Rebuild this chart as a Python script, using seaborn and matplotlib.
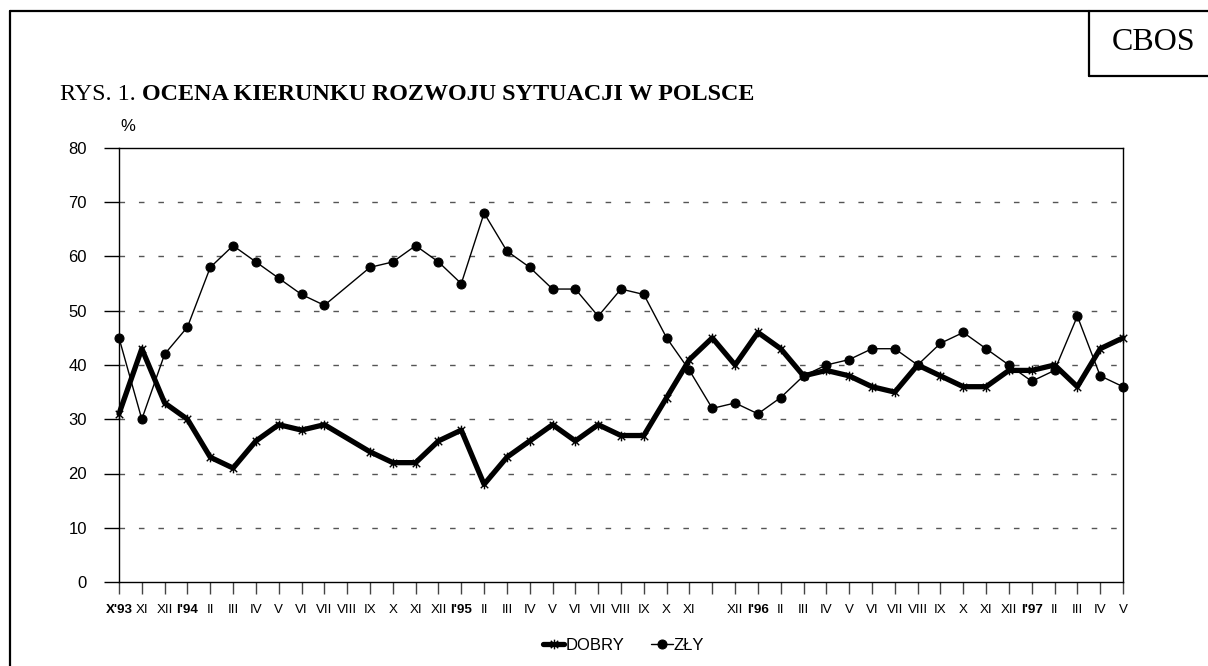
import numpy as np
import pandas as pd
import matplotlib
matplotlib.use("Agg")
import matplotlib.pyplot as plt
import seaborn as sns
from matplotlib.path import Path
from matplotlib.lines import Line2D

# ---------------- data ----------------
months = ["X'93", "XI", "XII",
          "I'94", "II", "III", "IV", "V", "VI", "VII", "VIII", "IX", "X", "XI", "XII",
          "I'95", "II", "III", "IV", "V", "VI", "VII", "VIII", "IX", "X", "XI", "",
          "XII",
          "I'96", "II", "III", "IV", "V", "VI", "VII", "VIII", "IX", "X", "XI", "XII",
          "I'97", "II", "III", "IV", "V"]
dobry = [31, 43, 33,
         30, 23, 21, 26, 29, 28, 29, np.nan, 24, 22, 22, 26,
         28, 18, 23, 26, 29, 26, 29, 27, 27, 34, 41, 45,
         40,
         46, 43, 38, 39, 38, 36, 35, 40, 38, 36, 36, 39,
         39, 40, 36, 43, 45]
zly = [45, 30, 42,
       47, 58, 62, 59, 56, 53, 51, np.nan, 58, 59, 62, 59,
       55, 68, 61, 58, 54, 54, 49, 54, 53, 45, 39, 32,
       33,
       31, 34, 38, 40, 41, 43, 43, 40, 44, 46, 43, 40,
       37, 39, 49, 38, 36]
y_ticks = [0, 10, 20, 30, 40, 50, 60, 70, 80]

pos = np.arange(len(months))
df_d = pd.DataFrame({"pos": pos, "val": dobry}).dropna()
df_z = pd.DataFrame({"pos": pos, "val": zly}).dropna()

# ---------------- figure ----------------
sns.set_style("white")
plt.rcParams["font.family"] = ["Liberation Sans", "DejaVu Sans"]
plt.rcParams["text.color"] = "black"
plt.rcParams["axes.labelcolor"] = "black"
plt.rcParams["xtick.color"] = "black"
plt.rcParams["ytick.color"] = "black"

W, H = 1208, 666
fig = plt.figure(figsize=(W / 100, H / 100), dpi=100)
ax = fig.add_axes([119 / W, 1 - 582 / H, (1123 - 119) / W, (582 - 148) / H])

star = Path([(-1, -1), (1, 1), (-1, 1), (1, -1), (0, -1.3), (0, 1.3)],
            [Path.MOVETO, Path.LINETO, Path.MOVETO, Path.LINETO, Path.MOVETO, Path.LINETO])

sns.lineplot(data=df_z, x="pos", y="val", ax=ax, color="black", linewidth=1.0,
             marker="o", markersize=6.5, markeredgecolor="black", markerfacecolor="black",
             errorbar=None, legend=False, clip_on=False, zorder=3)
sns.lineplot(data=df_d, x="pos", y="val", ax=ax, color="black", linewidth=3.8,
             marker=star, markersize=7, markeredgewidth=1.0, markeredgecolor="black",
             errorbar=None, legend=False, clip_on=False, zorder=4)

ax.set_xlim(0, len(months) - 1)
ax.set_ylim(0, 80)
ax.set_yticks(y_ticks)
ax.set_yticklabels([str(v) for v in y_ticks], fontsize=12, color="black")
ax.set_xticks(pos)
ax.set_xticklabels(months, fontsize=9.6, color="black")
for lab in ax.get_xticklabels():
    if "'" in lab.get_text():
        lab.set_fontweight("bold")
ax.set_xlabel("")
ax.set_ylabel("")

for v in y_ticks[1:-1]:
    ax.axhline(v, color="#555555", linewidth=1.0, linestyle=(0, (4, 10)), zorder=1)

for s in ax.spines.values():
    s.set_visible(True)
    s.set_color("black")
    s.set_linewidth(1.0)

ax.tick_params(axis="y", direction="out", length=11, width=1, color="black", pad=12, left=True)
ax.tick_params(axis="x", direction="out", length=8.6, width=1, color="#444444", pad=7, bottom=True)

# legend
h1, h2 = ax.lines[1], ax.lines[0]
leg = fig.legend([h1, h2], ["DOBRY", "ZŁY"], loc="center", bbox_to_anchor=(0.516, 0.031),
                 ncol=2, frameon=False, fontsize=12, handlelength=1.3, handletextpad=0.05,
                 columnspacing=1.6, labelcolor="black")

# texts
fig.text(120 / W, 1 - 131 / H, "%", fontsize=12, ha="left", va="baseline", color="black")
t1 = fig.text(60 / W, 1 - 100 / H, "RYS. 1. ", fontsize=17.4, family="Liberation Serif",
              ha="left", va="baseline", color="black")
fig.canvas.draw()
bb = t1.get_window_extent(renderer=fig.canvas.get_renderer())
fig.text(bb.x1 / W, 1 - 100 / H, "OCENA KIERUNKU ROZWOJU SYTUACJI W POLSCE", fontsize=17.4,
         family="Liberation Serif", fontweight="bold", ha="left", va="baseline", color="black")
fig.text(1154 / W, 1 - 50 / H, "CBOS", fontsize=23, family="Liberation Serif",
         ha="center", va="baseline", color="black")

# frame lines
lw = 1.6
fig.add_artist(Line2D([10 / W, 1.0], [1 - 11 / H, 1 - 11 / H], transform=fig.transFigure,
                      color="black", linewidth=lw))
fig.add_artist(Line2D([10 / W, 10 / W], [1 - 11 / H, 0.0], transform=fig.transFigure,
                      color="black", linewidth=lw))
fig.add_artist(Line2D([1089 / W, 1089 / W], [1 - 11 / H, 1 - 76 / H], transform=fig.transFigure,
                      color="black", linewidth=lw))
fig.add_artist(Line2D([1089 / W, 1.0], [1 - 76 / H, 1 - 76 / H], transform=fig.transFigure,
                      color="black", linewidth=lw))

fig.savefig("out.png", dpi=100)
